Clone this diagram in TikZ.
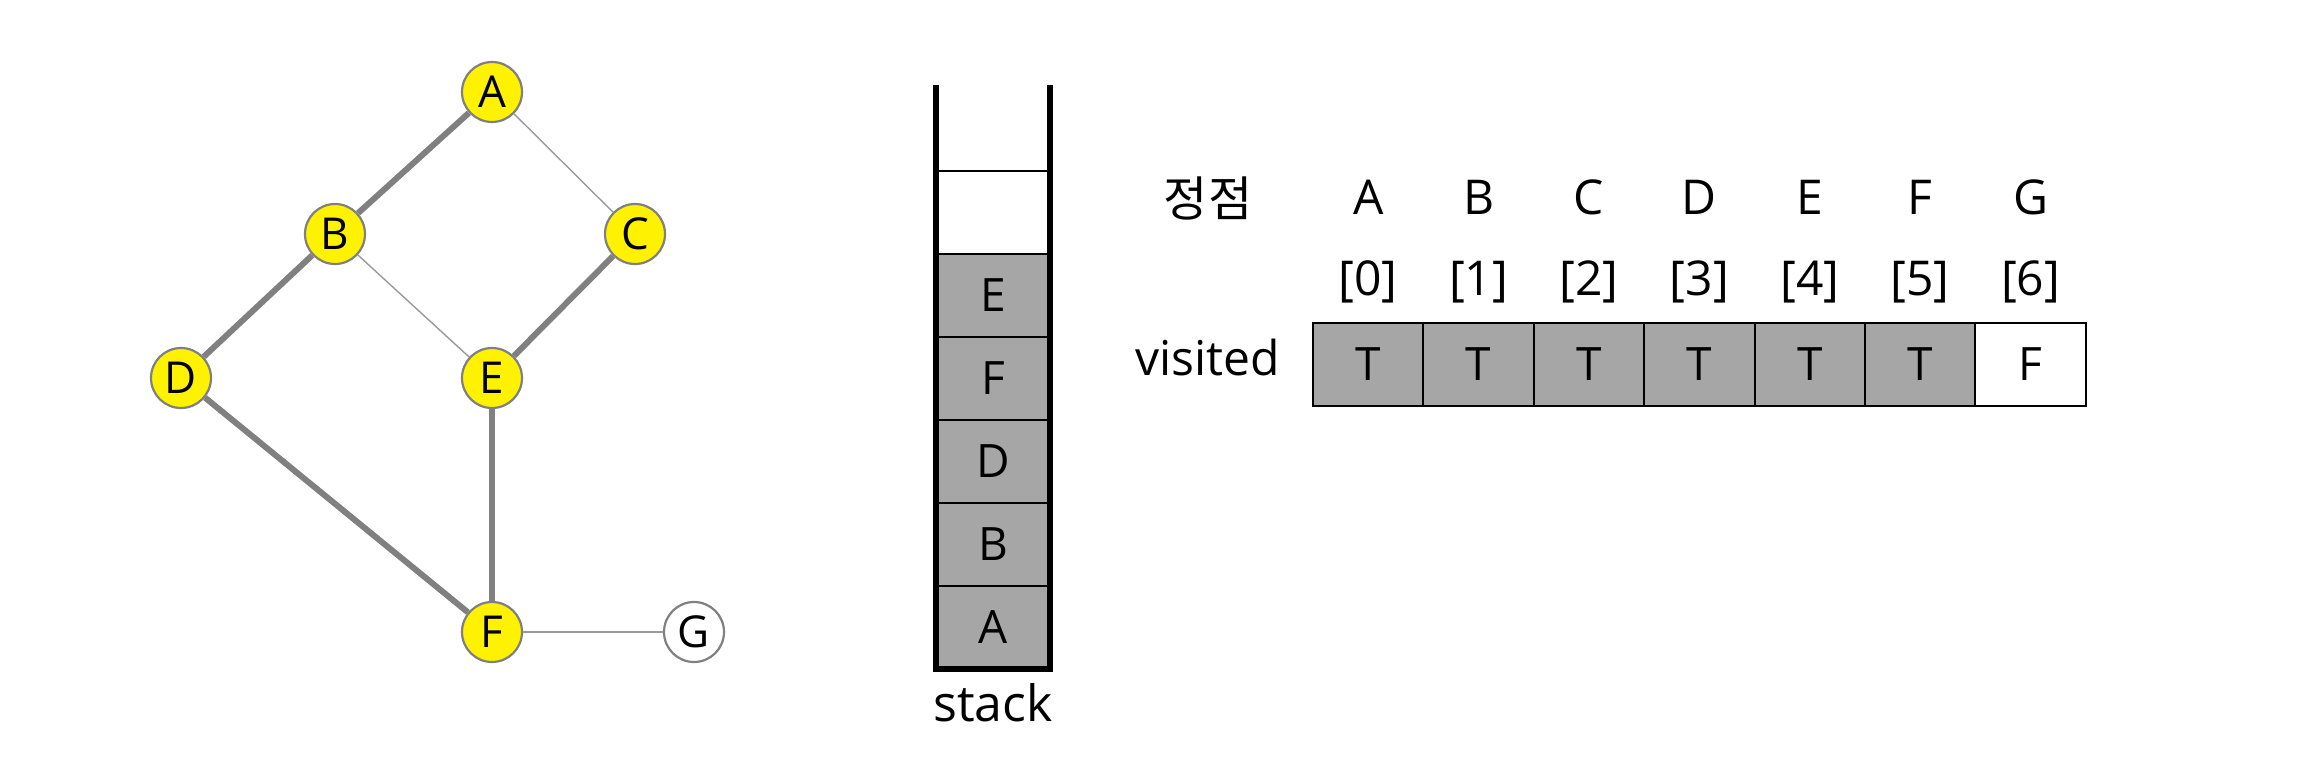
\documentclass[tikz,border=0pt]{standalone}
\usepackage{fontspec}
\setmainfont{Open Sans}
\newfontfamily\kor{Noto Sans CJK KR}
\usetikzlibrary{positioning}

\begin{document}
\begin{tikzpicture}[x=0.5pt,y=-0.5pt]
    % Colors
    \colorlet{cell gray}{black!35}
    \colorlet{edge gray}{black!50}
    \colorlet{light edge}{black!40}

    % Styles
    \tikzstyle{vertex} = [circle,draw=edge gray,line width=1.1pt,fill=yellow,minimum size=30pt,inner sep=0pt,font=\fontsize{22}{22}\selectfont]
    \tikzstyle{tree edge} = [draw=edge gray,line width=3pt]
    \tikzstyle{other edge} = [draw=light edge,line width=0.7pt]
    \tikzstyle{stack cell} = [rectangle,draw=black,line width=0.8pt,fill=cell gray,outer sep=0pt,minimum width=57pt,minimum height=41.5pt,inner sep=0pt,font=\fontsize{23}{23}\selectfont]
    \tikzstyle{visit cell} = [rectangle,draw=black,line width=1pt,outer sep=0pt,minimum width=55.2pt,minimum height=41.5pt,inner sep=0pt,font=\fontsize{23}{23}\selectfont]
    \tikzstyle{label text} = [inner sep=0pt,font=\fontsize{24}{24}\selectfont]
    \tikzstyle{wall} = [line width=3pt,line cap=rect]

    \useasboundingbox (0,0) rectangle (2305,759);

    %%% Graph
    \node[vertex] (A) at (492,92) {A};
    \node[vertex] (B) at (335,234) {B};
    \node[vertex] (C) at (635,234) {C};
    \node[vertex] (D) at (181,378) {D};
    \node[vertex] (E) at (492,378) {E};
    \node[vertex] (F) at (492,632) {F};
    \node[vertex,fill=white] (G) at (694,632) {G};

    \draw[tree edge] (A) -- (B);
    \draw[tree edge] (B) -- (D);
    \draw[tree edge] (D) -- (F);
    \draw[tree edge] (F) -- (E);
    \draw[tree edge] (E) -- (C);
    \draw[other edge] (A) -- (C);
    \draw[other edge] (B) -- (E);
    \draw[other edge] (F) -- (G);
    %%%

    %%% Stack
    \node[stack cell] (sA) at (993,627.5) {A};
    \node[stack cell,above=0pt of sA] (sB) {B};
    \node[stack cell,above=0pt of sB] (sD) {D};
    \node[stack cell,above=0pt of sD] (sF) {F};
    \node[stack cell,above=0pt of sF] (sE) {E};
    \node[stack cell,draw=none,fill=none,above=0pt of sE] (slot) {};
    \coordinate[above=41.5pt of slot.north west] (top left);
    \coordinate[above=41.5pt of slot.north east] (top right);
    \draw[line width=0.8pt] (slot.north west) -- (slot.north east);
    \draw[wall] (top left) -- (sA.south west) -- (sA.south east) -- (top right);
    \node[label text,font=\fontsize{25}{25}\selectfont,below=7pt of sA] (stack label) {stack};
    %%%

    %%% Visited table
    \node[label text] (vertex label) at (1208,199) {\kor 정점};
    \node[label text] (visited label) at (1208,357) {visited};
    \foreach \v/\val/\col [count=\i from 0] in {A/T/cell gray,B/T/cell gray,C/T/cell gray,D/T/cell gray,E/T/cell gray,F/T/cell gray,G/F/white}
    {
        \node[visit cell,fill=\col] (visit\i) at ({1368.2+110.4*\i},364.5) {\val};
        \node[label text] (index\i) at ({1368.2+110.4*\i},282) {[\i]};
        \node[label text] (head\v) at ({1368.2+110.4*\i},197) {\v};
    }
    %%%
\end{tikzpicture}
\end{document}
